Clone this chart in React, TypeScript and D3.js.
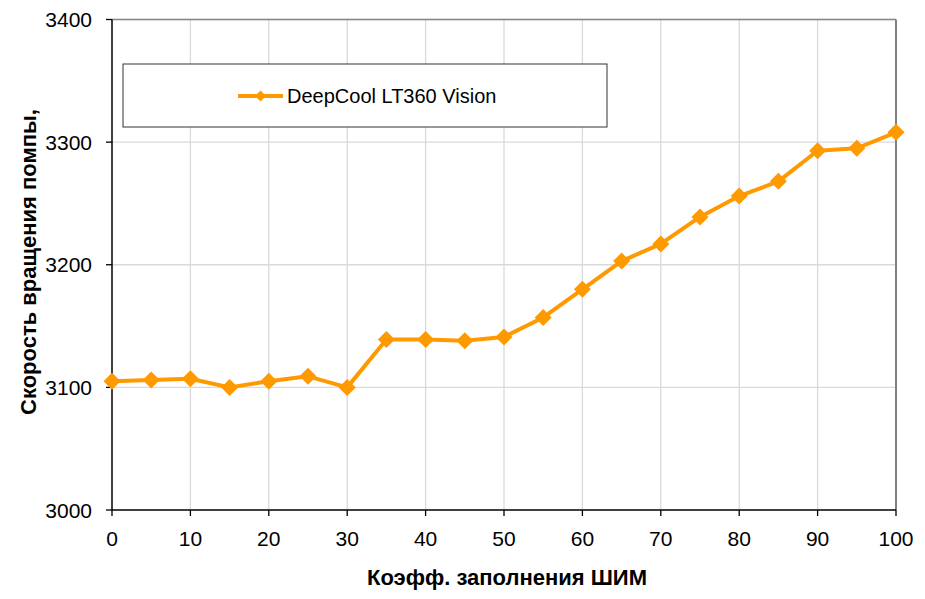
import * as d3 from 'd3'

const pwm = [0, 5, 10, 15, 20, 25, 30, 35, 40, 45, 50, 55, 60, 65, 70, 75, 80, 85, 90, 95, 100]
const rpm = [3105, 3106, 3107, 3100, 3105, 3109, 3100, 3139, 3139, 3138, 3141, 3157, 3180, 3203, 3217, 3239, 3256, 3268, 3293, 3295, 3308]
const xTicks = [0, 10, 20, 30, 40, 50, 60, 70, 80, 90, 100]
const yTicks = [3000, 3100, 3200, 3300, 3400]
const seriesName = 'DeepCool LT360 Vision'

const W = 925
const H = 599
const margin = { left: 112, right: 29, top: 19.5, bottom: 89 }
const orange = '#FF9900'
const font = '"Liberation Sans", Arial, sans-serif'

export default function App() {
  const x = d3.scaleLinear().domain([0, 100]).range([margin.left, W - margin.right])
  const y = d3.scaleLinear().domain([3000, 3400]).range([H - margin.bottom, margin.top])
  const line = d3
    .line<number>()
    .x((_, i) => x(pwm[i]))
    .y((d) => y(d))
  const diamond = (cx: number, cy: number, r: number) =>
    `M${cx},${cy - r}L${cx + r},${cy}L${cx},${cy + r}L${cx - r},${cy}Z`

  const [x0, x1] = x.range()
  const [yb, yt] = y.range()

  return (
    <svg
      width={W}
      height={H}
      style={{ position: 'absolute', left: 0, top: 0, background: '#fff' }}
      fontFamily={font}
    >
      {/* grid */}
      {xTicks.slice(1, -1).map((t) => (
        <line key={'gx' + t} x1={x(t)} x2={x(t)} y1={yt} y2={yb} stroke="#d9d9d9" strokeWidth={1.3} />
      ))}
      {yTicks.slice(1).map((t) => (
        <line key={'gy' + t} x1={x0} x2={x1} y1={y(t)} y2={y(t)} stroke="#d9d9d9" strokeWidth={1.3} />
      ))}
      {/* frame */}
      <line x1={x0} x2={x1} y1={yt} y2={yt} stroke="#888" strokeWidth={1.5} />
      <line x1={x1} x2={x1} y1={yt} y2={yb} stroke="#808080" strokeWidth={2} />
      <line x1={x0} x2={x0} y1={yt} y2={yb + 0.5} stroke="#000" strokeWidth={1.5} />
      <line x1={x0} x2={x1} y1={yb} y2={yb} stroke="#000" strokeWidth={1.5} />

      {/* ticks */}
      {xTicks.map((t) => (
        <g key={'tx' + t}>
          <line x1={x(t)} x2={x(t)} y1={yb} y2={yb + 6} stroke="#000" strokeWidth={1.3} />
          <text x={x(t)} y={yb + 36} textAnchor="middle" fontSize={21} fill="#000">
            {t}
          </text>
        </g>
      ))}
      {yTicks.map((t) => (
        <g key={'ty' + t}>
          <line x1={x0 - 6} x2={x0} y1={y(t)} y2={y(t)} stroke="#000" strokeWidth={1.3} />
          <text x={x0 - 20} y={y(t) + 7.5} textAnchor="end" fontSize={21} fill="#000">
            {t}
          </text>
        </g>
      ))}

      {/* axis titles */}
      <text x={507} y={585} textAnchor="middle" fontSize={22} fontWeight="bold" fill="#000">
        Коэфф. заполнения ШИМ
      </text>
      <text
        transform={`translate(36,262) rotate(-90)`}
        textAnchor="middle"
        fontSize={22}
        fontWeight="bold"
        fill="#000"
      >
        Скорость вращения помпы,
      </text>

      {/* series */}
      <path d={line(rpm) ?? ''} fill="none" stroke={orange} strokeWidth={4} strokeLinejoin="round" />
      {rpm.map((v, i) => (
        <path key={'m' + i} d={diamond(x(pwm[i]), y(v), 8.5)} fill={orange} />
      ))}

      {/* legend */}
      <rect x={123} y={64} width={484} height={63} fill="#fff" stroke="#333" strokeWidth={1} />
      <line x1={238} x2={283} y1={96} y2={96} stroke={orange} strokeWidth={4} />
      <path d={diamond(260.5, 96, 5.5)} fill={orange} />
      <text x={287} y={103} fontSize={20} fill="#000">
        {seriesName}
      </text>
    </svg>
  )
}
